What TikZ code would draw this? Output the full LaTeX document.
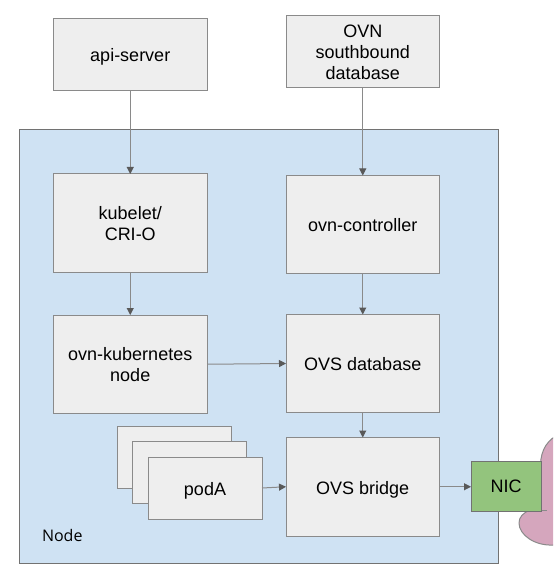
\documentclass[tikz,border=0pt]{standalone}
\usepackage{fontspec}
\setmainfont{Liberation Sans}
\newfontfamily\labelfont{Open Sans}
\usetikzlibrary{positioning}
\usetikzlibrary{arrows.meta}
\definecolor{boxgray}{HTML}{EEEEEE}
\definecolor{nodeblue}{HTML}{CFE2F3}
\definecolor{nicgreen}{HTML}{93C47D}
\definecolor{cloudpink}{HTML}{D5A6BD}
\definecolor{linegray}{HTML}{8A8A8A}
\definecolor{tipgray}{HTML}{595959}

\begin{document}
\begin{tikzpicture}[
                      x=1pt, y=-1pt,
                      every node/.style={font=\fontsize{18}{21}\selectfont, align=center, outer sep=0pt, inner sep=0pt},
                      graybox/.style={rectangle, draw=linegray, fill=boxgray, line width=1pt, minimum width=153.5pt, text depth=0pt, execute at begin node={\rule{0pt}{14.5pt}}},
                      tallbox/.style={graybox, minimum height=98pt},
                      topbox/.style={graybox, minimum height=72.5pt},
                      podbox/.style={graybox, minimum width=114pt, minimum height=62pt},
                      nicbox/.style={rectangle, draw=tipgray!50!linegray, fill=nicgreen, line width=1pt, minimum width=70pt, minimum height=50pt},
                      arrow/.style={draw=linegray, line width=1pt, -{Triangle[length=7pt, width=7pt, color=tipgray]}},
                  ]
                  \useasboundingbox (0,0) rectangle (553,577);

                  % Node area
                  \draw[draw=tipgray!50!linegray, fill=nodeblue, line width=1pt] (19,130) rectangle (498,563);
                  \node[font=\labelfont\fontsize{16}{19}\selectfont, anchor=west] (node_label) at (42,535) {Node};

                  % Cloud
                  \begin{scope}
                      \clip (0,0) rectangle (553,577);
                      \draw[draw=linegray, fill=cloudpink, line width=1pt] (541,470) .. controls (539,455) and (545,442) .. (556,436)
                          -- (560,548) -- (553,545) .. controls (535,546) and (519,535) .. (519,523)
                          .. controls (519,517) and (523,513) .. (530,510) -- cycle;
                      \draw[draw=linegray, line width=1pt] (541,510) -- (547,510);
                  \end{scope}

                  % Nodes
                  \node[topbox]   (api_server)                              at (130.25,54.75)  {api-server};
                  \node[tallbox]  (kubelet)    [below=83pt of api_server]                      {kubelet/\\CRI-O};
                  \node[tallbox, minimum height=98.5pt]  (ovnk_node)  [below=43pt of kubelet]  {ovn-kubernetes\\node};

                  \node[topbox]   (ovn_sb)                                  at (362.75,51.75)  {OVN\\southbound\\database};
                  \node[tallbox]  (ovn_ctrl)   [below=87.5pt of ovn_sb]                        {ovn-controller};
                  \node[tallbox]  (ovs_db)     [below=41pt of ovn_ctrl]                        {OVS database};
                  \node[tallbox, minimum height=98.5pt]  (ovs_bridge) [below=25pt of ovs_db]   {OVS bridge};

                  \node[podbox]   (pod_c)                                   at (174,457)       {};
                  \node[podbox]   (pod_b)      [below right=-46.5pt and -98.5pt of pod_c]      {};
                  \node[podbox]   (pod_a)      [below right=-46.5pt and -98.5pt of pod_b]      {podA};

                  \node[nicbox]   (nic)        [right=31.5pt of ovs_bridge]                    {NIC};

                  %Lines
                  \draw[arrow] (api_server.south) -- (kubelet.north);
                  \draw[arrow] (kubelet.south) -- (ovnk_node.north);
                  \draw[arrow] (ovn_sb.south) -- (ovn_ctrl.north);
                  \draw[arrow] (ovn_ctrl.south) -- (ovs_db.north);
                  \draw[arrow] (ovs_db.south) -- (ovs_bridge.north);
                  \draw[arrow] (ovnk_node.east) -- (ovs_db.west);
                  \draw[arrow] (pod_a.east) -- (ovs_bridge.west);
                  \draw[arrow] (ovs_bridge.east) -- (nic.west);
              \end{tikzpicture}
\end{document}
